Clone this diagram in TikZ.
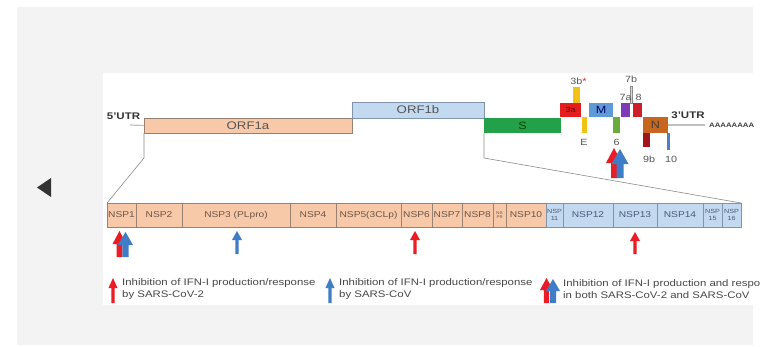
\documentclass[tikz,border=0pt]{standalone}
\usepackage{fontspec}
\setmainfont[FakeStretch=1.2]{Liberation Sans}
\definecolor{bggray}{HTML}{F3F3F3}
\definecolor{peach}{HTML}{F7C9A9}
\definecolor{peachline}{HTML}{9A8272}
\definecolor{lblue}{HTML}{C3D9F0}
\definecolor{blueline}{HTML}{8094AC}
\definecolor{sgreen}{HTML}{22A04A}
\definecolor{red3a}{HTML}{E41E1E}
\definecolor{yel}{HTML}{F2C316}
\definecolor{mblue}{HTML}{5D9AD6}
\definecolor{gsix}{HTML}{6AAB3C}
\definecolor{purp}{HTML}{7D3BB8}
\definecolor{redeight}{HTML}{CC1F2A}
\definecolor{nbrown}{HTML}{C8651F}
\definecolor{dred}{HTML}{A0161B}
\definecolor{bten}{HTML}{4F7EC2}
\definecolor{arred}{HTML}{EB1C24}
\definecolor{arblue}{HTML}{3F7DC6}
\definecolor{txtgray}{HTML}{555555}
\definecolor{nsptxt}{HTML}{6A5548}
\definecolor{nspbtxt}{HTML}{4A5A78}
\newcommand{\seg}[7]{\node[#2, minimum width={(#5-#3)*1pt}, minimum height={(#6-#4)*1pt}] (#1) at ({(#3+#5)/2},{(#4+#6)/2}) {#7};}
\newcommand{\UpArr}[7]{\fill[#1] (#2,#3) -- ({#2+#6},{#3+#7}) -- ({#2+#5},{#3+#7}) -- ({#2+#5},{#3+#4}) -- ({#2-#5},{#3+#4}) -- ({#2-#5},{#3+#7}) -- ({#2-#6},{#3+#7}) -- cycle;}
\tikzset{
  box/.style={rectangle, inner sep=0pt, outer sep=0pt},
  orfa/.style={box, fill=peach, draw=peachline, line width=0.6pt, font=\fontsize{11}{11}\selectfont, text=txtgray},
  orfb/.style={box, fill=lblue, draw=blueline, line width=0.6pt, font=\fontsize{11}{11}\selectfont, text=txtgray},
  gene/.style={box, font=\fontsize{10.5}{10.5}\selectfont},
  nspa/.style={box, fill=peach, draw=peachline, line width=0.6pt, font=\fontsize{8.5}{8.5}\selectfont, text=nsptxt, align=center},
  nspb/.style={box, fill=lblue, draw=blueline, line width=0.6pt, font=\fontsize{8.5}{8.5}\selectfont, text=nspbtxt, align=center},
  small/.style={font=\fontsize{6}{7}\selectfont},
  tiny/.style={font=\fontsize{4}{4.5}\selectfont},
  lbl/.style={inner sep=0pt, font=\fontsize{9}{9}\selectfont, text=txtgray},
  utr/.style={inner sep=0pt, font=\bfseries\fontsize{9.6}{9.6}\selectfont, text=black!80},
  leg/.style={inner sep=0pt, anchor=west, align=left, font=\fontsize{9.5}{12.5}\selectfont, text=black!72},
  zoomline/.style={draw=black!45, line width=0.6pt},
  utrline/.style={draw=black!25, line width=1.2pt},
}
\begin{document}
\begin{tikzpicture}[x=1pt,y=-1pt]
\useasboundingbox (0,0) rectangle (776,346);
% panels
\fill[bggray] (17,7) rectangle (753,345);
\fill[white] (103,73) rectangle (753,305);
\fill[black!80] (37,187.5) -- (51,178) -- (51,197) -- cycle;
% genome
\seg{orf1a}{orfa}{144}{118}{352}{133}{ORF1a}
\seg{orf1b}{orfb}{352}{102}{484}{118}{ORF1b}
\seg{S}{gene, fill=sgreen, text=green!25!black}{484}{118}{561}{133}{S}
\seg{gthreea}{gene, fill=red3a, text=red!40!black, font=\fontsize{7.5}{7.5}\selectfont}{560}{103}{581}{117}{3a}
\seg{gthreeb}{gene, fill=yel}{573}{87}{580}{103}{}
\seg{gE}{gene, fill=yel}{581.5}{117}{587}{133}{}
\seg{gM}{gene, fill=mblue, text=blue!40!black}{589}{103}{613}{117}{M}
\seg{gsix}{gene, fill=gsix}{613}{117}{620}{133}{}
\seg{gsevena}{gene, fill=purp}{621}{103}{630}{117}{}
\seg{gsevenb}{gene, fill=black!15, draw=black!45, line width=0.4pt}{630.5}{86}{632.5}{103}{}
\seg{geight}{gene, fill=redeight}{633}{103}{642}{117}{}
\seg{gN}{gene, fill=nbrown, text=black!75}{643}{117}{668}{133}{N}
\seg{gnineb}{gene, fill=dred}{643}{133}{650}{147}{}
\seg{gten}{gene, fill=bten}{667}{133}{669.5}{150}{}
\node[utr] (utr5) at (123.5,116) {5'UTR};
\node[utr] (utr3) at (688,115.5) {3'UTR};
\coordinate (u5) at (130,125);
\coordinate (u3) at (705,125);
\draw[utrline] (u5) -- (orf1a.west);
\draw[utrline] (gN.east) -- (u3);
\node[inner sep=0pt, anchor=west, font=\bfseries\fontsize{6.5}{6.5}\selectfont, text=black!75] (polya) at (709,125) {AAAAAAAA};
% gene labels
\node[lbl] (lthreeb) at (578.5,81) {3b\textcolor{arred}{*}};
\node[lbl] (lsevenb) at (631,79) {7b};
\node[lbl] (lsevena) at (625.5,97) {7a};
\node[lbl] (leight) at (638.5,97) {8};
\node[lbl] (lE) at (584,142) {E};
\node[lbl] (lsix) at (616.5,142) {6};
\node[lbl] (lnineb) at (649,159) {9b};
\node[lbl] (lten) at (671,159) {10};
% NSP bar
\seg{nsp1}{nspa}{107}{203}{136}{227}{NSP1}
\seg{nsp2}{nspa}{136}{203}{182}{227}{NSP2}
\seg{nsp3}{nspa}{182}{203}{290}{227}{NSP3 (PLpro)}
\seg{nsp4}{nspa}{290}{203}{336}{227}{NSP4}
\seg{nsp5}{nspa}{336}{203}{401}{227}{NSP5(3CLp)}
\seg{nsp6}{nspa}{401}{203}{432}{227}{NSP6}
\seg{nsp7}{nspa}{432}{203}{462}{227}{NSP7}
\seg{nsp8}{nspa}{462}{203}{493}{227}{NSP8}
\seg{nsp9}{nspa, tiny}{493}{203}{506}{227}{NS\\P9}
\seg{nsp10}{nspa}{506}{203}{546}{227}{NSP10}
\seg{nsp11}{nspb, small}{546}{203}{563}{227}{NSP\\11}
\seg{nsp12}{nspb}{563}{203}{613}{227}{NSP12}
\seg{nsp13}{nspb}{613}{203}{657}{227}{NSP13}
\seg{nsp14}{nspb}{657}{203}{703}{227}{NSP14}
\seg{nsp15}{nspb, small}{703}{203}{722}{227}{NSP\\15}
\seg{nsp16}{nspb, small}{722}{203}{741}{227}{NSP\\16}
% zoom connectors
\draw[zoomline] (orf1a.south west) -- ++(0,25) -- (nsp1.north west);
\draw[zoomline] (S.south west) -- ++(0,25) -- (nsp16.north east);
% arrows
\UpArr{arred}{614}{148}{30}{3}{8}{15}
\UpArr{arblue}{620}{149}{29}{3.5}{8.5}{15}
\UpArr{arred}{119.5}{231}{26}{2.8}{7}{13}
\UpArr{arblue}{125.5}{232}{25}{3.2}{7.5}{13}
\UpArr{arblue}{237}{231}{23}{1.6}{5}{9}
\UpArr{arred}{415}{231}{23}{1.6}{5}{9}
\UpArr{arred}{635}{232}{22}{1.6}{5}{9}
% legend
\UpArr{arred}{113}{278}{25}{1.6}{4.5}{10}
\UpArr{arblue}{330}{278}{25}{1.6}{4.5}{10}
\UpArr{arred}{546.5}{278}{25}{2.6}{6.5}{12}
\UpArr{arblue}{553}{279}{24}{3}{7}{12}
\node[leg] (leg1) at (122,289) {Inhibition of IFN-I production/response\\by SARS-CoV-2};
\node[leg] (leg2) at (339,289) {Inhibition of IFN-I production/response\\by SARS-CoV};
\node[leg] (leg3) at (563,289) {Inhibition of IFN-I production and respo\\in both SARS-CoV-2 and SARS-CoV};
\end{tikzpicture}
\end{document}
